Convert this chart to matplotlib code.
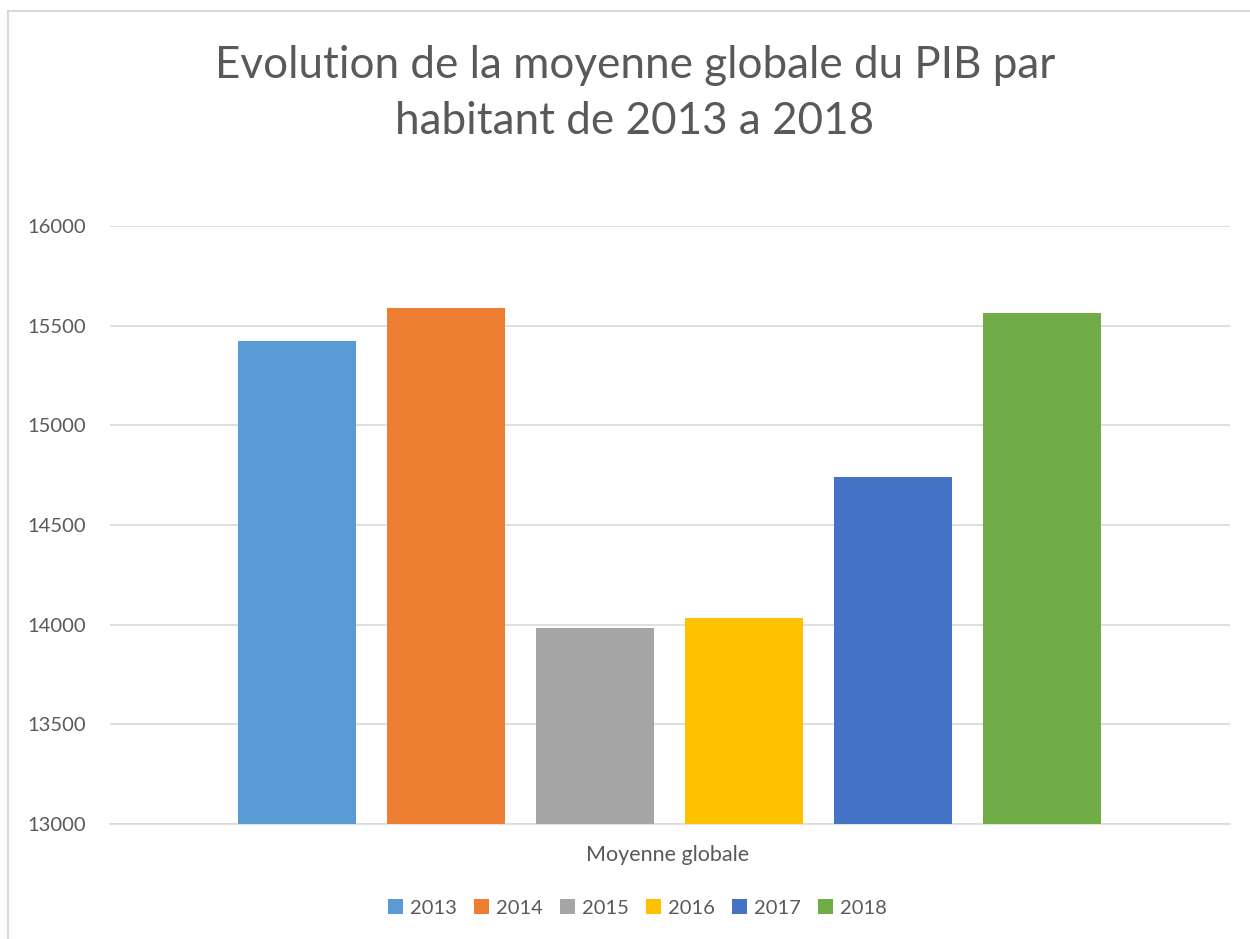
import numpy as np
import matplotlib.pyplot as plt
from matplotlib.lines import Line2D
from matplotlib.patches import Patch

years = ['2013', '2014', '2015', '2016', '2017', '2018']
values = [15423, 15590, 13983, 14033, 14742, 15565]
colors = ['#5B9BD5', '#ED7D31', '#A5A5A5', '#FFC000', '#4472C4', '#70AD47']
category = 'Moyenne globale'
title = 'Evolution de la moyenne globale du PIB par\nhabitant de 2013 a 2018'

plt.rcParams['font.family'] = ['Lato', 'DejaVu Sans']

fig = plt.figure(figsize=(12.5, 9.39), dpi=100)
ax = fig.add_axes([0.088, 0.1225, 0.896, 0.6368])

x = np.arange(len(years))
ax.bar(x, values, width=0.792, color=colors, zorder=3)

ax.set_ylim(13000, 16000)
ax.set_xlim(-1.255, 6.262)
ax.set_yticks(np.arange(13000, 16001, 500))
ax.yaxis.grid(True, color='#D9D9D9', linewidth=1.2, zorder=0)
ax.tick_params(axis='y', length=0, labelsize=14.5, labelcolor='#595959', pad=17.5)
ax.set_xticks([])
for s in ['top', 'right', 'left']:
    ax.spines[s].set_visible(False)
ax.spines['bottom'].set_color('#D9D9D9')
ax.spines['bottom'].set_linewidth(1.2)

fig.text(0.5344, 0.089, category, ha='center', va='center', fontsize=15.5, color='#595959')
fig.text(0.508, 0.9, title, ha='center', va='center', fontsize=31.7, color='#595959',
         linespacing=1.45)

handles = [Patch(facecolor=c, label=y) for c, y in zip(colors, years)]
fig.legend(handles=handles, loc='center', bbox_to_anchor=(0.51, 0.033), ncol=6,
           frameon=False, fontsize=14.5, labelcolor='#595959', handlelength=0.75,
           handleheight=0.75, handletextpad=0.35, columnspacing=0.85)

# chart border
fig.add_artist(Line2D([8/1250, 8/1250], [0, 1 - 11/939], color='#D9D9D9', linewidth=1.5,
                      transform=fig.transFigure))
fig.add_artist(Line2D([8/1250, 1], [1 - 11/939, 1 - 11/939], color='#D9D9D9', linewidth=1.5,
                      transform=fig.transFigure))

fig.savefig('out.png', dpi=100)
